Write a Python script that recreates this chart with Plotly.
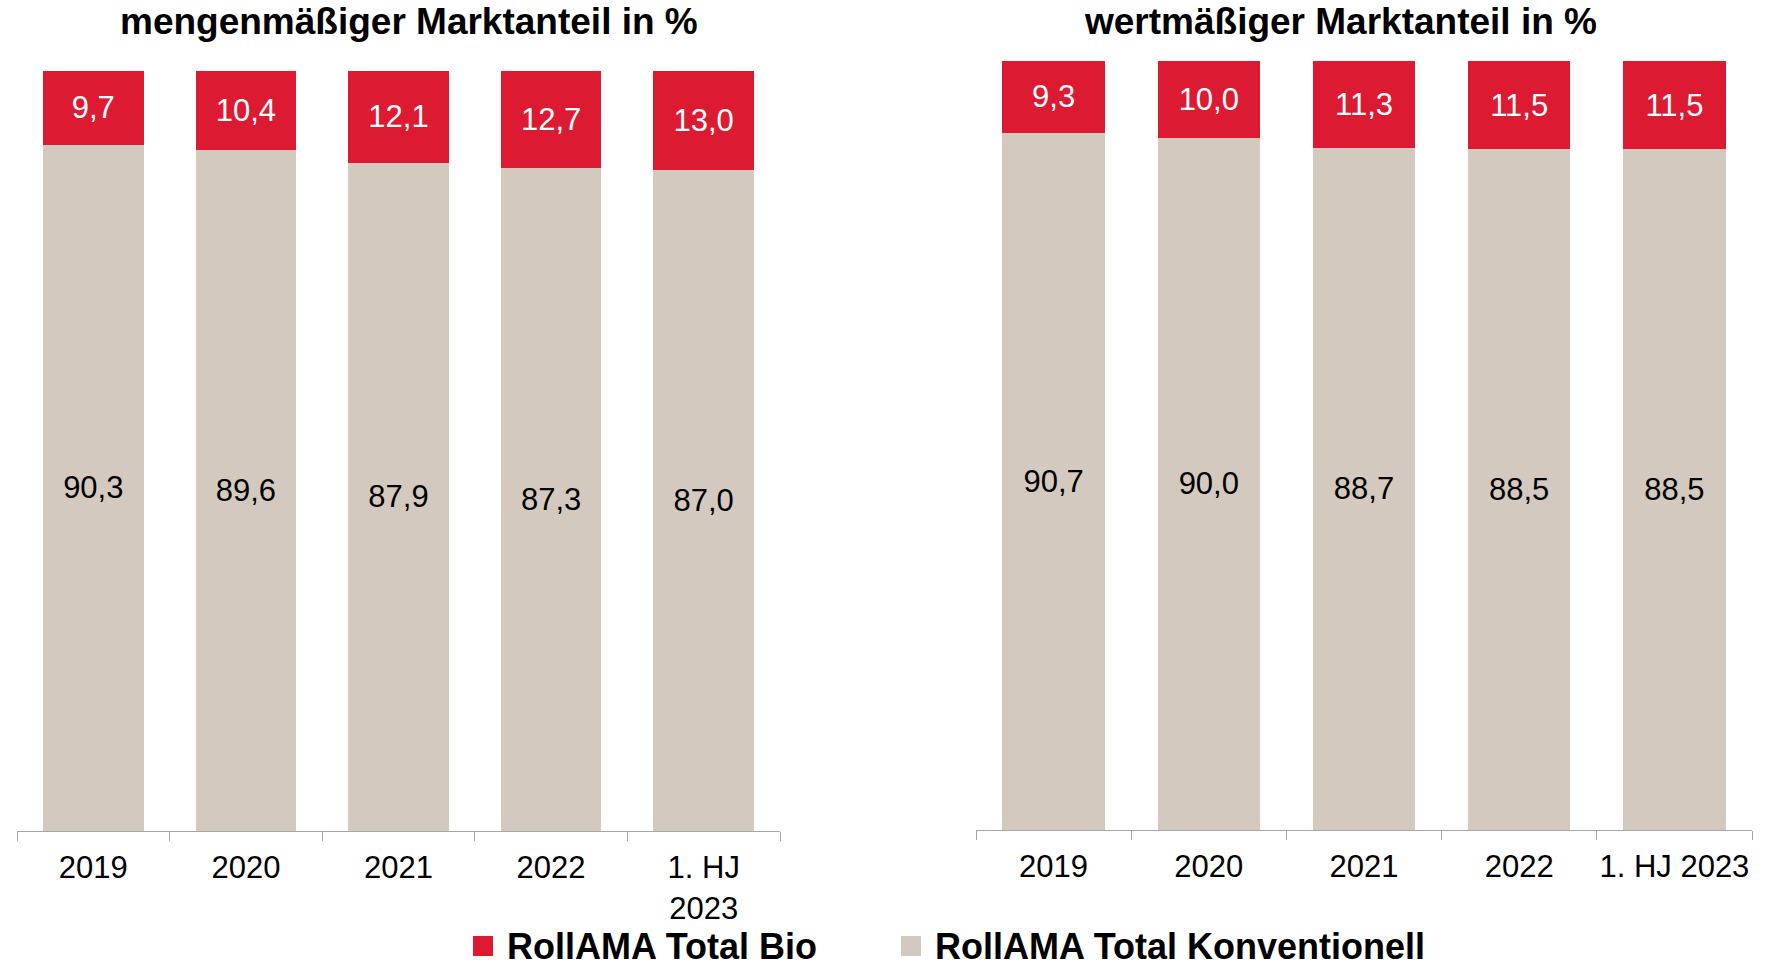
import plotly.graph_objects as go

categories_left = ["2019", "2020", "2021", "2022", "1. HJ<br>2023"]
categories_right = ["2019", "2020", "2021", "2022", "1. HJ 2023"]

menge_bio = [9.7, 10.4, 12.1, 12.7, 13.0]
menge_konv = [90.3, 89.6, 87.9, 87.3, 87.0]

wert_bio = [9.3, 10.0, 11.3, 11.5, 11.5]
wert_konv = [90.7, 90.0, 88.7, 88.5, 88.5]

title_left = "mengenmäßiger Marktanteil in %"
title_right = "wertmäßiger Marktanteil in %"
name_bio = "RollAMA Total Bio"
name_konv = "RollAMA Total Konventionell"

RED = "#DC1B32"
GREY = "#D3C9BF"
FONT = "Liberation Sans, Arial, sans-serif"

W, H = 1766, 968

fig = go.Figure()

def add_pair(cats, konv, bio, xa, ya):
    fig.add_trace(go.Bar(
        x=cats, y=konv, name=name_konv, marker_color=GREY, marker_line_width=0,
        texttemplate="%{y:.1f}", textposition="inside", insidetextanchor="middle",
        textangle=0, constraintext="none",
        textfont=dict(color="black", size=31, family=FONT),
        xaxis=xa, yaxis=ya, showlegend=False, hoverinfo="skip"))
    fig.add_trace(go.Bar(
        x=cats, y=bio, name=name_bio, marker_color=RED, marker_line_width=0,
        texttemplate="%{y:.1f}", textposition="inside", insidetextanchor="middle",
        textangle=0, constraintext="none",
        textfont=dict(color="white", size=31, family=FONT),
        xaxis=xa, yaxis=ya, showlegend=False, hoverinfo="skip"))

add_pair(categories_left, menge_konv, menge_bio, "x", "y")
add_pair(categories_right, wert_konv, wert_bio, "x2", "y2")

xcommon = dict(type="category", showgrid=False, zeroline=False, showline=True,
               linecolor="#A6A6A6", linewidth=1.3, ticks="outside", tickson="boundaries",
               ticklen=9, tickcolor="#A6A6A6", tickwidth=1.3, tickangle=0,
               tickfont=dict(size=31, family=FONT, color="black"), automargin=False,
               ticklabelstandoff=9, range=[-0.5, 4.5], fixedrange=True)
ycommon = dict(range=[0, 100], visible=False, showgrid=False, zeroline=False,
               fixedrange=True, automargin=False)

# legend drawn as swatches + labels (paper coordinates)
leg_y = 1 - 946 / H
leg_items = [(name_bio, RED, 473, 505), (name_konv, GREY, 901, 933)]
shapes = []
annotations = []
for name, col, sx, tx in leg_items:
    shapes.append(dict(type="rect", xref="paper", yref="paper",
                       x0=sx / W, x1=(sx + 20) / W, y0=leg_y - 10 / H, y1=leg_y + 10 / H,
                       fillcolor=col, line_width=0))
    annotations.append(dict(text="<b>" + name + "</b>", x=tx / W, y=leg_y, xref="paper", yref="paper",
                            showarrow=False, xanchor="left", yanchor="middle",
                            font=dict(size=36, family=FONT, color="black")))

for t, cx in [(title_left, 409), (title_right, 1340)]:
    annotations.append(dict(text="<b>" + t + "</b>", x=cx / W, y=1 - 22 / H, xref="paper", yref="paper",
                            showarrow=False, xanchor="center", yanchor="middle",
                            font=dict(size=37, family=FONT, color="black")))

fig.update_layout(
    width=W, height=H,
    margin=dict(l=0, r=0, t=0, b=0),
    paper_bgcolor="white", plot_bgcolor="white",
    barmode="stack", bargap=0.34,
    separators=",.",
    showlegend=False,
    font=dict(family=FONT, color="black"),
    xaxis=dict(domain=[17 / W, 780 / W], anchor="y", **xcommon),
    yaxis=dict(domain=[1 - 831 / H, 1 - 71 / H], anchor="x", **ycommon),
    xaxis2=dict(domain=[976 / W, 1752 / W], anchor="y2", **xcommon),
    yaxis2=dict(domain=[1 - 830 / H, 1 - 61 / H], anchor="x2", **ycommon),
    shapes=shapes,
    annotations=annotations,
)

fig.write_html("out.html", config={"displayModeBar": False},
               post_script="document.body.style.margin='0';")
